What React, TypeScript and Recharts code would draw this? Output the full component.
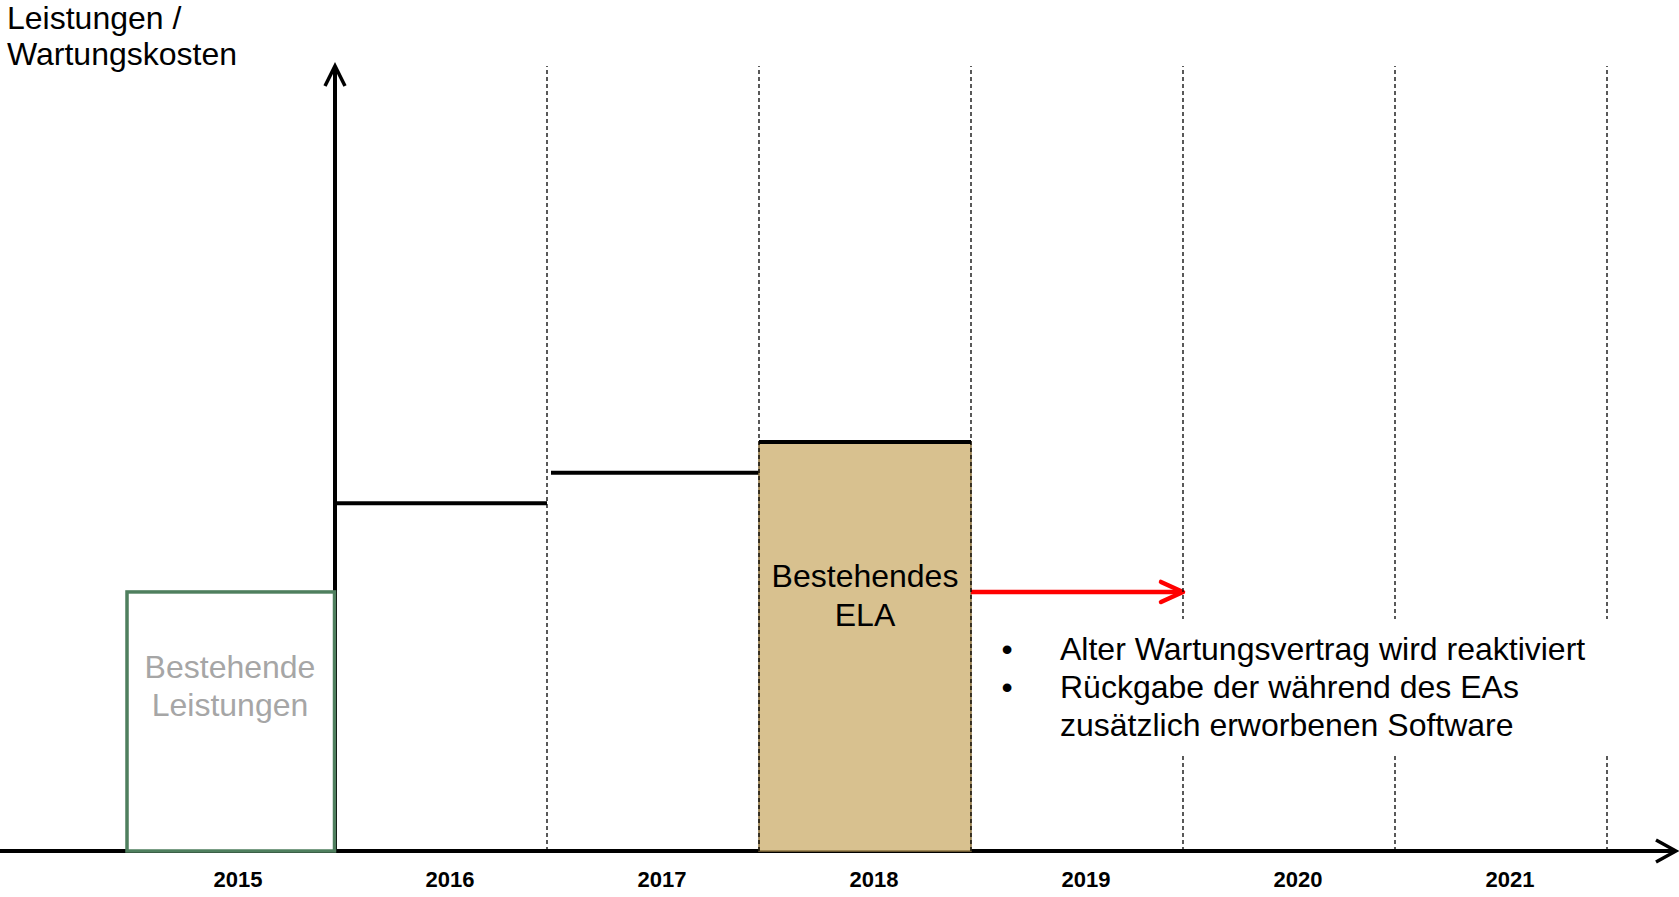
import React from "react";
import { ComposedChart, Bar, XAxis, YAxis, ReferenceLine } from "recharts";

// values
const years = ["2015", "2016", "2017", "2018", "2019", "2020", "2021"];
const costLevels = [33, 44.3, 48.2, 52.1, 33, null, null];
const segmentKinds = ["existing", "step", "step", "ela", "reactivated", null, null];
const boxLabels = [["Bestehende", "Leistungen"], null, null, ["Bestehendes", "ELA"], null, null, null];
// dashed year separators: start of these years, plus the end of the last one
const separatorYears = ["2017", "2018", "2019", "2020", "2021"];
const valueAxisYear = "2016";
const axisTitle = ["Leistungen /", "Wartungskosten"];
const notes = [
  ["Alter Wartungsvertrag wird reaktiviert"],
  ["Rückgabe der während des EAs", "zusätzlich erworbenen Software"],
];

const W = 1679;
const H = 897;
const FONT = "'Liberation Sans', Arial, Helvetica, sans-serif";

const data = years.map((year, i) => ({
  year,
  cost: costLevels[i],
  kind: segmentKinds[i],
  label: boxLabels[i],
}));

function Segment(props: any) {
  const { x, y, width, height, payload } = props;
  if (payload == null || payload.cost == null) return <g />;
  const label: string[] | null = payload.label;
  const cx = x + width / 2;

  if (payload.kind === "existing") {
    return (
      <g>
        <rect x={x + 4} y={y} width={width - 4.5} height={height} fill="#fff" stroke="#4F7F5E" strokeWidth={3.5} />
        {label &&
          label.map((t, i) => (
            <text key={i} x={cx + 1} y={y + 86 + i * 38} textAnchor="middle" fontSize={32} fill="#A6A6A6" fontFamily={FONT}>
              {t}
            </text>
          ))}
      </g>
    );
  }
  if (payload.kind === "ela") {
    return (
      <g>
        <rect x={x} y={y} width={width} height={height} fill="#D8C18F" stroke="#8A7240" strokeWidth={1.5} />
        <line x1={x} x2={x + width} y1={y} y2={y} stroke="#000" strokeWidth={4} />
        {label &&
          label.map((t, i) => (
            <text key={i} x={cx} y={y + 145 + i * 38.5} textAnchor="middle" fontSize={32} fill="#000" fontFamily={FONT}>
              {t}
            </text>
          ))}
      </g>
    );
  }
  if (payload.kind === "reactivated") {
    const tip = x + width;
    return (
      <g stroke="#FF0000" strokeWidth={4.5} fill="none" strokeLinecap="round" strokeLinejoin="round">
        <line x1={x} x2={tip - 2} y1={y} y2={y} strokeLinecap="butt" />
        <polyline points={`${tip - 22},${y - 10} ${tip},${y} ${tip - 22},${y + 10}`} />
      </g>
    );
  }
  // step
  return <line x1={x + (payload.year === "2016" ? 0 : 4)} x2={x + width} y1={y} y2={y} stroke="#000" strokeWidth={4} />;
}

function YearTick(props: any) {
  const { x, y, payload } = props;
  return (
    <text x={x + 9} y={y + 36} textAnchor="middle" fontSize={22} fontWeight="bold" fill="#000" fontFamily={FONT}>
      {payload.value}
    </text>
  );
}

function ValueAxis(props: any) {
  const { x1, y1, y2 } = props;
  const top = Math.min(y1, y2);
  const bottom = Math.max(y1, y2);
  return (
    <g stroke="#000" strokeWidth={4} fill="none">
      <line x1={x1} x2={x1} y1={bottom} y2={top + 1} />
      <polyline points={`${x1 - 10},${top + 20} ${x1},${top} ${x1 + 10},${top + 20}`} strokeWidth={3.5} />
    </g>
  );
}

function TimeAxis(props: any) {
  const { x2, y1 } = props;
  const end = x2 + 69;
  return (
    <g stroke="#000" strokeWidth={4} fill="none">
      <line x1={0} x2={end - 1} y1={y1} y2={y1} />
      <polyline points={`${end - 20},${y1 - 11} ${end},${y1} ${end - 20},${y1 + 11}`} strokeWidth={3.5} />
    </g>
  );
}

const dashed = { stroke: "#000", strokeWidth: 1.3, strokeDasharray: "4 3" };

export default function App() {
  return (
    <div style={{ position: "absolute", left: 0, top: 0, width: W, height: H, background: "#fff", fontFamily: FONT }}>
      <ComposedChart
        width={W}
        height={H}
        data={data}
        margin={{ top: 66, right: 72, bottom: 0, left: 123 }}
        barCategoryGap={0}
        barGap={0}
      >
        <XAxis dataKey="year" height={46} axisLine={false} tickLine={false} tickSize={0} tickMargin={0} tick={<YearTick />} interval={0} />
        <YAxis domain={[0, 100]} hide />
        <ReferenceLine y={0} stroke="#000" shape={TimeAxis} zIndex={100} />
        <ReferenceLine x={valueAxisYear} position="start" stroke="#000" shape={ValueAxis} zIndex={100} />
        <Bar dataKey="cost" isAnimationActive={false} shape={Segment} />
        {separatorYears.map((y) => (
          <ReferenceLine key={y} x={y} position="start" {...dashed} zIndex={400} />
        ))}
        <ReferenceLine x={years[years.length - 1]} position="end" {...dashed} zIndex={400} />
      </ComposedChart>

      <svg width={W} height={H} style={{ position: "absolute", left: 0, top: 0, pointerEvents: "none" }}>
        {axisTitle.map((t, i) => (
          <text key={t} x={7} y={28.5 + i * 36.6} fontSize={32} fill="#000" fontFamily={FONT}>
            {t}
          </text>
        ))}
        <rect x={990} y={619} width={W - 990} height={136} fill="#fff" />
        {notes.map((lines, i) => {
          const start = notes.slice(0, i).reduce((n, l) => n + l.length, 0);
          return (
            <g key={i}>
              <text x={1007} y={660 + start * 38} textAnchor="middle" fontSize={32} fill="#000" fontFamily={FONT}>
                •
              </text>
              {lines.map((line, j) => (
                <text key={j} x={1060} y={660 + (start + j) * 38} fontSize={32} fill="#000" fontFamily={FONT}>
                  {line}
                </text>
              ))}
            </g>
          );
        })}
      </svg>
    </div>
  );
}
